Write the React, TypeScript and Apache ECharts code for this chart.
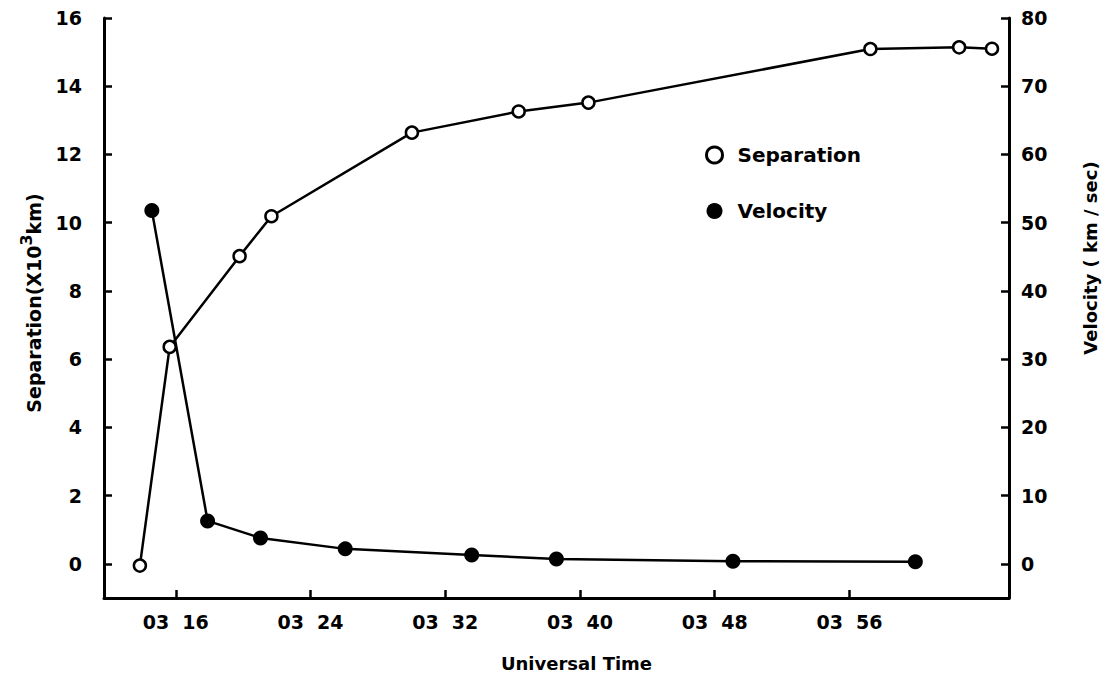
import React, { useEffect, useRef } from "react";
import * as echarts from "echarts";

// minutes after 03:00 UT
const sepMinutes = [13.87, 15.64, 19.79, 21.68, 30.02, 36.36, 40.5, 57.24, 62.51, 64.46];
const separation = [-0.05, 6.36, 9.02, 10.19, 12.64, 13.26, 13.52, 15.09, 15.14, 15.1];
const velMinutes = [14.58, 17.89, 21.03, 26.06, 33.57, 38.6, 49.08, 59.91];
const velocity = [51.8, 6.3, 3.8, 2.2, 1.3, 0.7, 0.4, 0.3];

const timeTicks = [16, 24, 32, 40, 48, 56];
const sepTicks = [0, 2, 4, 6, 8, 10, 12, 14, 16];
const velTicks = [0, 10, 20, 30, 40, 50, 60, 70, 80];

const FONT = "DejaVu Sans";

export default function App() {
  const ref = useRef<HTMLDivElement>(null);
  useEffect(() => {
    if (!ref.current) return;
    const chart = echarts.init(ref.current, undefined, { renderer: "svg" });
    const axisLine = { show: true, onZero: false, lineStyle: { color: "#000", width: 3 } };
    const axisTick = (vals: number[]) => ({
      show: true,
      inside: true,
      length: 8,
      customValues: vals,
      lineStyle: { color: "#000", width: 2.5 },
    });
    chart.setOption({
      animation: false,
      backgroundColor: "#fff",
      textStyle: { fontFamily: FONT },
      grid: { left: 104, right: 95, top: 18, bottom: 79, containLabel: false },
      legend: {
        orient: "vertical",
        left: 700,
        top: 140,
        itemGap: 36,
        itemWidth: 16,
        itemHeight: 16,
        icon: "circle",
        textStyle: { fontFamily: FONT, fontSize: 20, fontWeight: "bold", color: "#000", padding: [0, 0, 0, 10] },
        data: [
          { name: "Separation", itemStyle: { color: "#fff", borderColor: "#000", borderWidth: 3 } },
          { name: "Velocity", itemStyle: { color: "#000", borderColor: "#000", borderWidth: 0 } },
        ],
      },
      xAxis: {
        type: "value",
        min: 11.74,
        max: 65.47,
        name: "Universal Time",
        nameLocation: "middle",
        nameGap: 56,
        nameTextStyle: { fontFamily: FONT, fontSize: 18, fontWeight: "bold", color: "#000", padding: [0, 0, 0, 40] },
        axisLine,
        axisTick: axisTick(timeTicks),
        splitLine: { show: false },
        axisLabel: {
          customValues: timeTicks,
          formatter: (v: number) => "03  " + v,
          margin: 14,
          fontFamily: FONT,
          fontSize: 19,
          fontWeight: "bold",
          color: "#000",
        },
      },
      yAxis: [
        {
          type: "value",
          min: -1,
          max: 16,
          position: "left",
          name: "Separation(X10{s|3}km)",
          nameLocation: "middle",
          nameGap: 54,
          nameRotate: 90,
          nameTextStyle: {
            fontFamily: FONT,
            fontSize: 19,
            fontWeight: "bold",
            color: "#000",
            padding: [0, 0, 0, 10],
            rich: {
              s: { fontFamily: FONT, fontSize: 16, fontWeight: "bold", color: "#000", verticalAlign: "bottom", padding: [0, 0, 16, 0] },
            },
          },
          axisLine,
          axisTick: axisTick(sepTicks),
          splitLine: { show: false },
          axisLabel: {
            customValues: sepTicks,
            margin: 22,
            fontFamily: FONT,
            fontSize: 19,
            fontWeight: "bold",
            color: "#000",
          },
        },
        {
          type: "value",
          min: -5,
          max: 80,
          position: "right",
          name: "Velocity ( km / sec)",
          nameLocation: "middle",
          nameGap: 72,
          nameRotate: 90,
          nameTextStyle: { fontFamily: FONT, fontSize: 18, fontWeight: "bold", color: "#000", padding: [0, 0, 0, 100] },
          axisLine,
          axisTick: axisTick(velTicks),
          splitLine: { show: false },
          axisLabel: {
            customValues: velTicks,
            margin: 12,
            fontFamily: FONT,
            fontSize: 19,
            fontWeight: "bold",
            color: "#000",
          },
        },
      ],
      series: [
        {
          name: "Separation",
          type: "line",
          yAxisIndex: 0,
          data: sepMinutes.map((m, i) => [m, separation[i]]),
          symbol: "circle",
          symbolSize: 12,
          itemStyle: { color: "#fff", borderColor: "#000", borderWidth: 2.5 },
          lineStyle: { color: "#000", width: 2.5 },
          z: 3,
        },
        {
          name: "Velocity",
          type: "line",
          yAxisIndex: 1,
          data: velMinutes.map((m, i) => [m, velocity[i]]),
          symbol: "circle",
          symbolSize: 15,
          itemStyle: { color: "#000", borderColor: "#000", borderWidth: 0 },
          lineStyle: { color: "#000", width: 2.5 },
          z: 2,
        },
      ],
    });
    return () => chart.dispose();
  }, []);
  return <div ref={ref} style={{ position: "fixed", left: 0, top: 0, width: 1107, height: 677 }} />;
}
